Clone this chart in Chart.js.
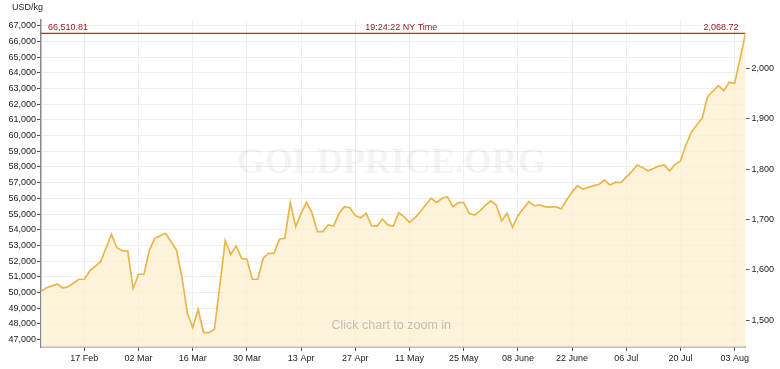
<!DOCTYPE html>
<html>
<head>
<meta charset="utf-8">
<script src="https://cdn.jsdelivr.net/npm/chart.js@4/dist/chart.umd.min.js"></script>
<style>
  body { margin: 0; background: #fff; }
  #box { width: 780px; height: 369px; position: relative; }
</style>
</head>
<body>
<div id="box"><canvas id="grafico-ouro"></canvas></div>
<script>
// Gold price, USD per kg, one value per trading day (5 Feb - 5 Aug)
const pricesKg = [
  50060, 50310, 50430, 50550, 50290, 50380, 50610, 50850, 50850, 51380,
  51670, 51970, 52840, 53710, 52860, 52670, 52650, 50270, 51170, 51170,
  52710, 53460, 53620, 53780, 53240, 52710, 51010, 48680, 47790, 48940,
  47450, 47450, 47660, 50480, 53310, 52440, 52970, 52190, 52120, 50850,
  50850, 52190, 52500, 52500, 53400, 53460, 55730, 54200, 55050, 55750,
  55090, 53880, 53880, 54310, 54240, 55050, 55470, 55410, 54900, 54770,
  55050, 54260, 54240, 54690, 54310, 54240, 55090, 54830, 54480, 54760,
  55150, 55600, 56010, 55730, 56010, 56110, 55470, 55730, 55730, 55050,
  54940, 55200, 55560, 55850, 55580, 54560, 55050, 54160, 54900, 55350,
  55790, 55540, 55580, 55480, 55450, 55470, 55330, 55900, 56400, 56810,
  56600, 56700, 56810, 56900, 57170, 56850, 57030, 57000, 57350, 57700,
  58130, 57960, 57760, 57900, 58060, 58130, 57750, 58170, 58380, 59400,
  60210, 60680, 61100, 62480, 62840, 63180, 62860, 63400, 63330, 64900,
  66510.81
];

// x axis ticks (trading day index) and their labels
const tickIndex = [8, 18, 28, 38, 48, 58, 68, 78, 88, 98, 108, 118, 128];
const tickLabels = ['17 Feb', '02 Mar', '16 Mar', '30 Mar', '13 Apr', '27 Apr', '11 May',
  '25 May', '08 June', '22 June', '06 Jul', '20 Jul', '03 Aug'];

const kgTicks = [47000, 48000, 49000, 50000, 51000, 52000, 53000, 54000, 55000,
  56000, 57000, 58000, 59000, 60000, 61000, 62000, 63000, 64000, 65000, 66000, 67000];
const ozTicks = [1500, 1600, 1700, 1800, 1900, 2000];

const currentKg = 66510.81;
const currentOz = 2068.72;
const timeText = '19:24:22 NY Time';

const OZ_PER_KG = 32.1507;
const Y_MIN = 46535;
const Y_MAX = 67363;

const fonte = 'Liberation Sans, Arial, sans-serif';

// Texts over the chart: watermark, current price labels, hint
const textosPlugin = {
  id: 'textos',
  beforeDatasetsDraw(chart) {
    const { ctx, chartArea } = chart;
    ctx.save();
    ctx.font = 'bold 36px "Liberation Serif", serif';
    ctx.fillStyle = 'rgba(0, 0, 0, 0.045)';
    ctx.textAlign = 'center';
    ctx.textBaseline = 'alphabetic';
    ctx.fillText('GOLDPRICE.ORG', (chartArea.left + chartArea.right) / 2 - 2, 173);
    ctx.restore();
  },
  afterDatasetsDraw(chart) {
    const { ctx, chartArea, scales } = chart;
    const yLinha = scales.y.getPixelForValue(currentKg);
    ctx.save();
    ctx.font = '9px ' + fonte;
    ctx.fillStyle = '#9a1c20';
    ctx.textBaseline = 'bottom';
    ctx.textAlign = 'left';
    ctx.fillText(currentKg.toLocaleString('en-US', { minimumFractionDigits: 2 }), chartArea.left + 7, yLinha - 1.5);
    ctx.textAlign = 'center';
    ctx.fillText(timeText, (chartArea.left + chartArea.right) / 2 + 8, yLinha - 1.5);
    ctx.textAlign = 'right';
    ctx.fillText(currentOz.toLocaleString('en-US', { minimumFractionDigits: 2 }), chartArea.right - 7, yLinha - 1.5);

    ctx.font = '12.5px ' + fonte;
    ctx.fillStyle = '#c2bfb8';
    ctx.textAlign = 'center';
    ctx.textBaseline = 'middle';
    ctx.fillText('Click chart to zoom in', (chartArea.left + chartArea.right) / 2 - 2, 326);

    ctx.font = '9px ' + fonte;
    ctx.fillStyle = '#222';
    ctx.textAlign = 'left';
    ctx.fillText('USD/kg', 12, 7.5);
    ctx.restore();
  }
};

const ctx = document.getElementById('grafico-ouro').getContext('2d');

new Chart(ctx, {
  type: 'line',
  data: {
    datasets: [{
      data: pricesKg.map((v, i) => ({ x: i, y: v })),
      borderColor: '#e9b64a',
      backgroundColor: 'rgba(252, 238, 206, 0.75)',
      borderWidth: 1.7,
      fill: 'start',
      tension: 0,
      pointRadius: 0
    }, {
      // current price line
      data: [{ x: 0, y: currentKg }, { x: pricesKg.length - 1, y: currentKg }],
      borderColor: '#d0202c',
      borderWidth: 1.4,
      fill: false,
      pointRadius: 0
    }]
  },
  options: {
    responsive: true,
    maintainAspectRatio: false,
    animation: false,
    layout: { padding: { top: 20, left: 0, right: 0, bottom: 0 } },
    plugins: {
      legend: { display: false },
      tooltip: { enabled: false }
    },
    scales: {
      x: {
        type: 'linear',
        min: 0,
        max: pricesKg.length - 1,
        afterBuildTicks: scale => { scale.ticks = tickIndex.map(v => ({ value: v })); },
        afterFit: scale => { scale.height = 22; },
        grid: { color: '#eeeeee', tickColor: '#555', tickLength: 4 },
        border: { display: true, color: '#888', width: 1.5 },
        ticks: {
          color: '#222',
          font: { family: fonte, size: 9 },
          padding: 2,
          maxRotation: 0,
          autoSkip: false,
          callback: (v) => tickLabels[tickIndex.indexOf(v)]
        }
      },
      y: {
        position: 'left',
        min: Y_MIN,
        max: Y_MAX,
        afterBuildTicks: scale => { scale.ticks = kgTicks.map(v => ({ value: v })); },
        afterFit: scale => { scale.width = 41; },
        grid: { color: '#eeeeee', tickColor: '#555', tickLength: 4 },
        border: { display: true, color: '#888', width: 1.5 },
        ticks: {
          color: '#222',
          font: { family: fonte, size: 9 },
          padding: 1,
          callback: v => v.toLocaleString('en-US')
        }
      },
      y2: {
        position: 'right',
        min: Y_MIN / OZ_PER_KG,
        max: Y_MAX / OZ_PER_KG,
        afterBuildTicks: scale => { scale.ticks = ozTicks.map(v => ({ value: v })); },
        afterFit: scale => { scale.width = 34.5; },
        grid: { drawOnChartArea: false, tickColor: '#555', tickLength: 4 },
        border: { display: false },
        ticks: {
          color: '#222',
          font: { family: fonte, size: 9 },
          padding: 2,
          callback: v => v.toLocaleString('en-US')
        }
      }
    }
  },
  plugins: [textosPlugin]
});
</script>
</body>
</html>
